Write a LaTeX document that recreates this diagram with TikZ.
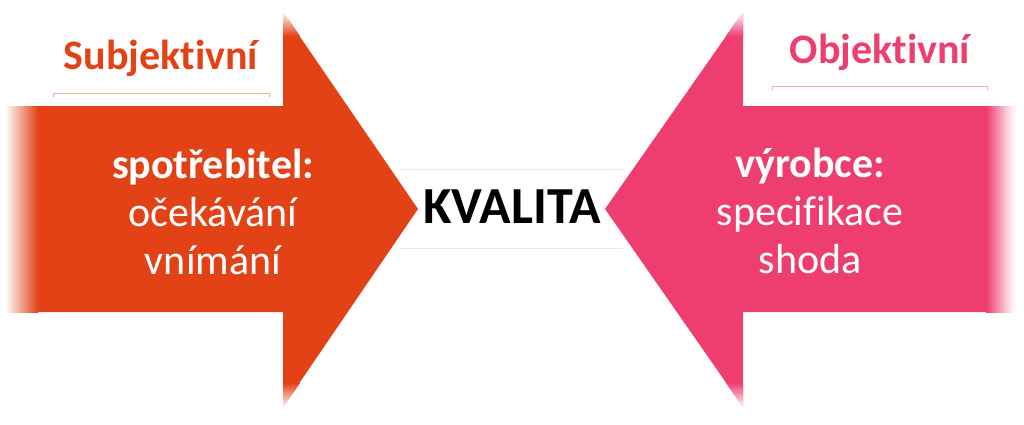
\documentclass[tikz,border=0pt]{standalone}
\usepackage{fontspec}
\setmainfont[Ligatures=NoCommon]{Carlito}
\usepackage{tikz}
\definecolor{subjred}{RGB}{226,66,22}
\definecolor{objpink}{RGB}{238,62,112}
\tikzset{
	arrowtext/.style = {text = white, align = center, font = \fontsize{42}{48}\selectfont},
	headtext/.style = {font = \bfseries\fontsize{42}{48}\selectfont},
	bracket/.style = {line width = 0.9pt}
}

\begin{document}
\begin{tikzpicture}[x = 1pt, y = -1pt]

	\useasboundingbox (0,0) rectangle (1024,424);
	\draw[gray!18, line width = 0.8pt] (400,169) -- (623,169);
	\draw[gray!18, line width = 0.8pt] (400,248) -- (623,248);
	\fill[subjred] (5,106) -- (283,106) -- (283,12) -- (418,209) -- (283,407) -- (283,312) -- (5,312) -- cycle;
	\fill[objpink] (1014,106) -- (743,106) -- (743,12) -- (605,209) -- (743,407) -- (743,312) -- (1014,312) -- cycle;
	\shade[left color = white, right color = subjred] (5,106) rectangle (38,312);
	\shade[left color = objpink, right color = white] (986,106) rectangle (1014,312);
	\shade[top color = white, bottom color = subjred] (283,11) -- (300,36) -- (283,36) -- cycle;
	\shade[top color = subjred, bottom color = white] (283,383) -- (300,383) -- (283,408) -- cycle;
	\shade[top color = white, bottom color = objpink] (743,11) -- (726,36) -- (743,36) -- cycle;
	\shade[top color = objpink, bottom color = white] (743,383) -- (726,383) -- (743,408) -- cycle;
	\node[headtext, text = subjred] (subj) at (161,58) {Subjektivní};
	\node[headtext, text = objpink] (obj) at (880,52) {Objektivní};
	\draw[bracket, subjred!45] (53,97) -- (53,93) -- (269,93) -- (269,97);
	\draw[bracket, objpink!45] (772,90) -- (772,86) -- (987,86) -- (987,90);
	\node[arrowtext] (spot) at (213,212) {\textbf{spotřebitel:}\\očekávání\\vnímání};
	\node[arrowtext] (vyr) at (810,211) {\textbf{výrobce:}\\specifikace\\shoda};
	\node[font = \bfseries\fontsize{52}{60}\selectfont] (kval) at (512,207) {KVALITA};

\end{tikzpicture}
\end{document}
